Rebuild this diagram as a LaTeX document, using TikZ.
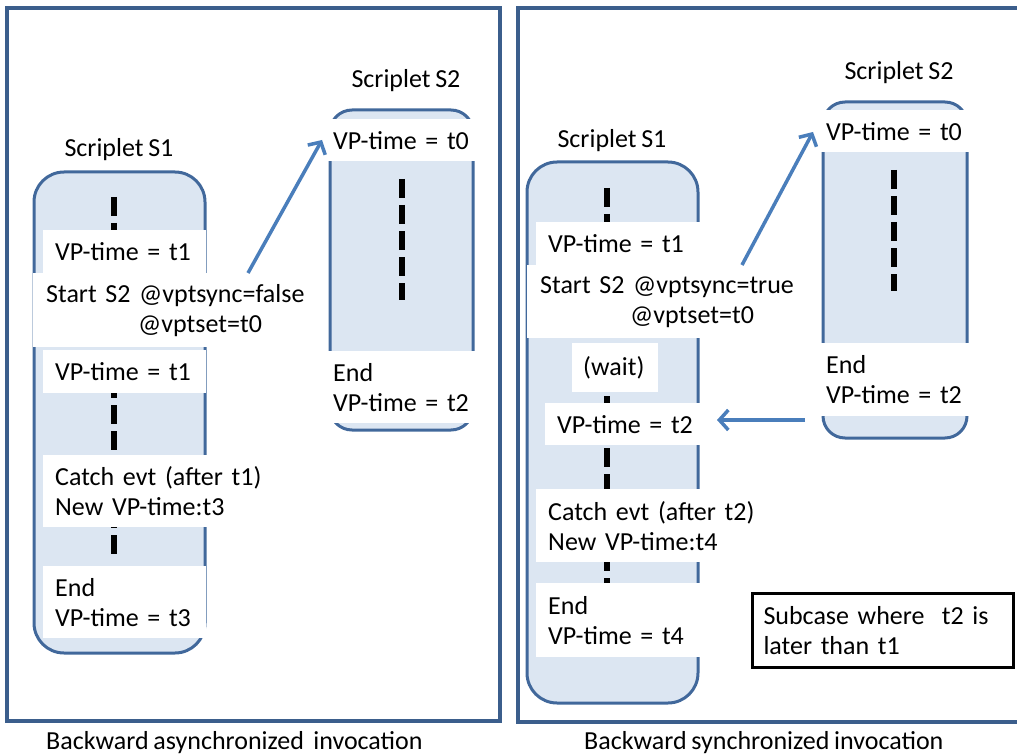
\documentclass[tikz,border=0pt]{standalone}
\usepackage{fontspec}
\setmainfont{Carlito}[WordSpace=0.8]
\usetikzlibrary{arrows.meta}
\definecolor{frameblue}{HTML}{3B5E8C}
\definecolor{scrline}{HTML}{41689B}
\definecolor{scrfill}{HTML}{DCE6F2}
\definecolor{arrowblue}{HTML}{4A7EBB}
\tikzset{
  panel/.style={draw=frameblue, line width=3.5pt},
  scriplet/.style={draw=scrline, line width=3pt, fill=scrfill},
  trace/.style={line width=6.5pt, dash pattern=on 19pt off 7pt},
  txt/.style={font=\fontsize{26}{30}\selectfont},
  wbox/.style={txt, fill=white, anchor=north west, inner sep=0pt, align=left},
  flow/.style={draw=arrowblue, line width=3.5pt, -{Straight Barb[length=9pt,width=20pt]}},
  heading/.style={txt, inner sep=0pt, anchor=base},
  note/.style={txt, draw=black, line width=3pt, anchor=north west, inner sep=0pt, align=left},
}
\begin{document}
\begin{tikzpicture}[x=1pt,y=-1pt]
\useasboundingbox (0,0) rectangle (1017,754);
\clip (0,0) rectangle (1017,754);

% panels
\draw[panel] (7,8) rectangle (500,721);
\draw[panel] (518,8) rectangle (1030,722);

% ---------- asynchronized case ----------
\draw[scriplet, rounded corners=30pt] (34,172) rectangle (205,653);
\draw[scriplet, rounded corners=22pt] (330,110) rectangle (473,430);
\draw[trace] (114,197) -- (114,556);
\draw[trace] (402,179) -- (402,300);

\node[wbox, text width=163pt, minimum height=43pt] (a1) at (43,230)
  {\hspace*{12pt}\mbox{VP-time = t1}};
\node[wbox, text width=277pt, minimum height=74pt] (a2) at (33,273)
  {\hspace*{13pt}\mbox{Start S2 @vptsync=false}\\\hspace*{105pt}\mbox{@vptset=t0}};
\node[wbox, text width=163pt, minimum height=43pt] (a3) at (43,350)
  {\hspace*{12pt}\mbox{VP-time = t1}};
\node[wbox, text width=219pt, minimum height=72pt] (a4) at (43,455)
  {\hspace*{12pt}\mbox{Catch evt (after t1)}\\\hspace*{12pt}\mbox{New VP-time:t3}};
\node[wbox, text width=163pt, minimum height=72pt] (a5) at (43,566)
  {\hspace*{12pt}\mbox{End}\\\hspace*{12pt}\mbox{VP-time = t3}};
\node[wbox, text width=155pt, minimum height=42pt] (b1) at (325,119)
  {\hspace*{8pt}\mbox{VP-time = t0}};
\node[wbox, text width=155pt, minimum height=72pt] (b2) at (325,351)
  {\hspace*{8pt}\mbox{End}\\\hspace*{8pt}\mbox{VP-time = t2}};

\node[heading] (s1acap) at (119,157) {Scriplet S1};
\node[heading] (s2acap) at (406,88) {Scriplet S2};

\coordinate (startA) at (248,273);
\coordinate (tipA) at (322,140);
\draw[flow] (startA) -- (tipA);

\node[heading, anchor=base west] (capA) at (46,749) {Backward asynchronized\ \ invocation};

% ---------- synchronized case ----------
\draw[scriplet, rounded corners=30pt] (527,162) rectangle (698,703);
\draw[scriplet, rounded corners=22pt] (823,102) rectangle (967,438);
\draw[trace] (607,188) -- (607,584);
\draw[trace] (894,170) -- (894,291);

\node[wbox, text width=164pt, minimum height=43pt] (c1) at (536,222)
  {\hspace*{12pt}\mbox{VP-time = t1}};
\node[wbox, text width=278pt, minimum height=73pt] (c2) at (527,265)
  {\hspace*{13pt}\mbox{Start S2 @vptsync=true}\\\hspace*{103pt}\mbox{@vptset=t0}};
\node[wbox, text width=86pt, minimum height=49pt] (c3) at (572,343)
  {\hspace*{11pt}\mbox{(wait)}};
\node[wbox, text width=155pt, minimum height=42pt] (c4) at (545,403)
  {\hspace*{12pt}\mbox{VP-time = t2}};
\node[wbox, text width=224pt, minimum height=73pt] (c5) at (536,489)
  {\hspace*{12pt}\mbox{Catch evt (after t2)}\\\hspace*{12pt}\mbox{New VP-time:t4}};
\node[wbox, text width=164pt, minimum height=74pt] (c6) at (536,583)
  {\hspace*{12pt}\mbox{End}\\\hspace*{12pt}\mbox{VP-time = t4}};
\node[wbox, text width=160pt, minimum height=42pt] (d1) at (815,110)
  {\hspace*{11pt}\mbox{VP-time = t0}};
\node[wbox, text width=160pt, minimum height=73pt] (d2) at (815,343)
  {\hspace*{11pt}\mbox{End}\\\hspace*{11pt}\mbox{VP-time = t2}};

\node[heading] (s1bcap) at (612,148) {Scriplet S1};
\node[heading] (s2bcap) at (899,80) {Scriplet S2};

\coordinate (startB) at (742,265);
\coordinate (tipB) at (813,132);
\draw[flow] (startB) -- (tipB);
\coordinate (startC) at (805,420);
\coordinate (tipC) at (717,420);
\draw[flow] (startC) -- (tipC);

\node[note, text width=261pt, minimum height=74pt] (sub) at (751,592)
  {\hspace*{11pt}\mbox{Subcase where\ \ t2 is}\\\hspace*{11pt}\mbox{later than t1}};

\node[heading, anchor=base west] (capB) at (584,749) {Backward synchronized invocation};
\end{tikzpicture}
\end{document}
